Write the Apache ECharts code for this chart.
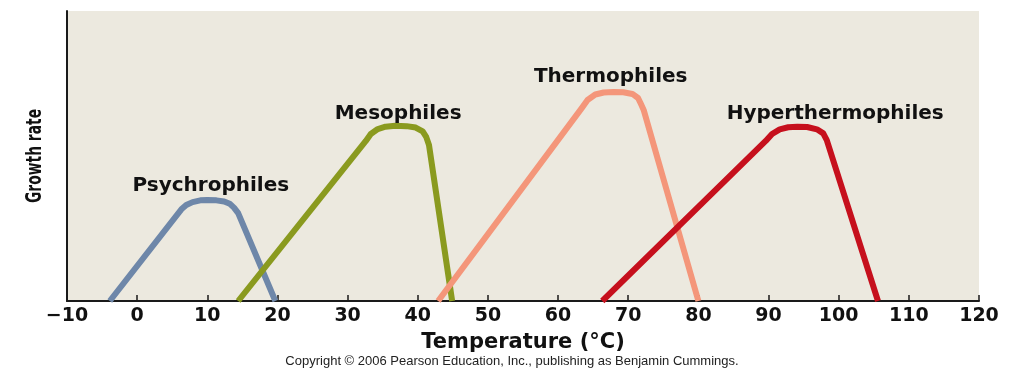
<!DOCTYPE html>
<html>
<head>
<meta charset="utf-8">
<script src="https://cdn.jsdelivr.net/npm/echarts@6/dist/echarts.min.js"></script>
<style>
  html, body { margin: 0; padding: 0; background: #ffffff; }
  #chart { width: 1024px; height: 376px; }
</style>
</head>
<body>
<div id="chart"></div>
<script>
// temperature ticks (°C)
const xTicks = { min: -10, max: 120, step: 10 };

// growth curves: [temperature, relative growth rate]
const psychrophiles = [[-3.9, 0], [6.3, 31.6], [7.0, 33.1], [7.9, 34.1], [9.0, 34.7], [10, 34.8], [11.3, 34.7], [12.4, 34.3], [13.2, 33.5], [13.8, 32.2], [14.4, 30.3], [19.7, 0]];
const mesophiles = [[14.4, 0], [32.6, 55.2], [33.3, 57.6], [34.3, 59.3], [35.4, 60.1], [36.8, 60.4], [38.4, 60.3], [39.7, 59.8], [40.7, 58.5], [41.2, 56.6], [41.6, 53.8], [44.9, 0]];
const thermophiles = [[42.9, 0], [63.4, 66.6], [64.2, 69.3], [65.3, 71.2], [66.5, 71.9], [67.9, 72.1], [69.3, 72.0], [70.6, 71.4], [71.4, 70.0], [71.8, 68.0], [72.2, 65.9], [80.0, 0]];
const hyperthermophiles = [[66.3, 0], [89.6, 55.2], [90.5, 57.6], [91.6, 59.2], [92.8, 59.9], [94.1, 60.1], [95.5, 60.0], [96.9, 59.2], [97.8, 57.8], [98.3, 55.5], [105.6, 0]];

// label anchors [temperature, growth rate]
const groupNames = ["Psychrophiles", "Mesophiles", "Thermophiles", "Hyperthermophiles"];
const labelAnchors = [[10.5, 39.7], [37.2, 64.5], [67.5, 77.2], [99.5, 64.5]];

const chart = echarts.init(document.getElementById("chart"));

const colors = ["#6e87a9", "#8a9a1f", "#f4967a", "#c6101d"];
const curves = [psychrophiles, mesophiles, thermophiles, hyperthermophiles];

const series = curves.map((data, i) => ({
  name: groupNames[i],
  type: "line",
  data: data,
  symbol: "none",
  smooth: false,
  clip: true,
  lineStyle: { color: colors[i], width: 6, join: "round", cap: "butt" },
}));

// text labels above each curve
series.push({
  name: "labels",
  type: "scatter",
  data: labelAnchors.map((p, i) => ({ value: p, name: groupNames[i] })),
  symbolSize: 0.1,
  itemStyle: { color: "#111111", opacity: 1 },
  label: {
    show: true,
    position: "inside",
    formatter: (p) => p.name,
    color: "#111111",
    opacity: 1,
    textBorderWidth: 0,
    fontFamily: "DejaVu Sans",
    fontWeight: "bold",
    fontSize: 20,
  },
  emphasis: { disabled: true },
  z: 5,
});

const option = {
  animation: false,
  grid: {
    left: 67,
    right: 45,
    top: 11,
    bottom: 75,
    show: true,
    backgroundColor: "#ece9df",
    borderWidth: 0,
  },
  xAxis: {
    type: "value",
    min: xTicks.min,
    max: xTicks.max,
    interval: xTicks.step,
    name: "Temperature (°C)",
    nameLocation: "middle",
    nameGap: 31,
    nameTextStyle: {
      color: "#111111",
      fontFamily: "DejaVu Sans",
      fontWeight: "bold",
      fontSize: 21,
    },
    axisLine: { show: true, onZero: false, lineStyle: { color: "#1a1a1a", width: 2 } },
    axisTick: { show: true, inside: true, length: 6, lineStyle: { color: "#1a1a1a", width: 1.5 } },
    splitLine: { show: false },
    axisLabel: {
      margin: 6,
      color: "#111111",
      fontFamily: "DejaVu Sans",
      fontWeight: "bold",
      fontSize: 19,
      formatter: (v) => (v < 0 ? "\u2212" + Math.abs(v) : String(v)),
    },
  },
  yAxis: {
    type: "value",
    min: 0,
    max: 100,
    axisLine: { show: true, onZero: false, lineStyle: { color: "#1a1a1a", width: 2 } },
    axisTick: { show: false },
    axisLabel: { show: false },
    splitLine: { show: false },
  },
  graphic: [
    {
      type: "text",
      x: 24,
      y: 203,
      rotation: Math.PI / 2,
      style: {
        text: "Growth rate",
        fill: "#111111",
        font: "bold 22px 'DejaVu Sans Condensed'",
        textVerticalAlign: "top",
      },
      scaleX: 0.7,
      scaleY: 1,
    },
    {
      type: "text",
      x: 512,
      y: 361,
      style: {
        text: "Copyright © 2006 Pearson Education, Inc., publishing as Benjamin Cummings.",
        fill: "#222222",
        font: "13px 'Liberation Sans'",
        textAlign: "center",
        textVerticalAlign: "middle",
      },
    },
  ],
  series: series,
};

chart.setOption(option);
</script>
</body>
</html>
